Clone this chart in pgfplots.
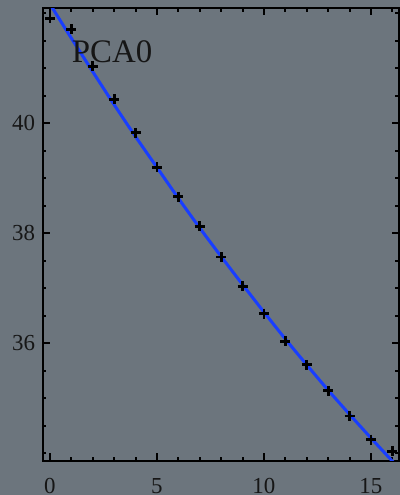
\documentclass[border=0pt]{standalone}
\usepackage{pgfplots}
\pgfplotsset{compat=1.18}
\usepackage{fontspec}
\setmainfont{Liberation Serif}
\definecolor{bg}{RGB}{108,117,125}
\definecolor{fitblue}{RGB}{25,62,255}
\definecolor{txt}{RGB}{22,22,22}
\newcommand{\tfont}{\fontsize{23}{26}\selectfont}
\begin{document}
\begin{tikzpicture}
\fill[bg] (-42.7bp,-34.5bp) rectangle (357.3bp,460.5bp);
\useasboundingbox (-42.7bp,-34.5bp) rectangle (357.3bp,460.5bp);
\begin{axis}[
  at={(0,0)}, anchor=south west,
  scale only axis,
  width=355.8bp, height=452bp,
  xmin=-0.34, xmax=16.29,
  ymin=33.87, ymax=42.09,
  axis line style={line width=2bp, black},
  xtick={0,5,10,15},
  ytick={36,38,40},
  xticklabels={{\tfont 0},{\tfont 5},{\tfont 10},{\tfont 15}},
  yticklabels={{\tfont 36},{\tfont 38},{\tfont 40}},
  minor xtick={1,2,3,4,6,7,8,9,11,12,13,14,16},
  minor ytick={34,34.5,35,35.5,36.5,37,37.5,38.5,39,39.5,40.5,41,41.5,42},
  tick align=inside,
  major tick length=7bp,
  minor tick length=3.5bp,
  every tick/.style={black, line width=2bp},
  tick label style={text=txt, inner sep=0pt},
  xticklabel style={anchor=base, yshift=-32.5bp},
  yticklabel style={anchor=base east, xshift=-7.5bp, yshift=-7.4bp},
  clip=true,
]
\addplot[fitblue, line width=3bp, smooth] coordinates {
(-0.5,42.48) (0,42.17) (1,41.55) (2,40.94) (3,40.34) (4,39.76) (5,39.20)
(6,38.64) (7,38.10) (8,37.58) (9,37.07) (10,36.57) (11,36.08) (12,35.61)
(13,35.15) (14,34.71) (15,34.28) (16,33.86) (16.5,33.66)
};
\addplot[only marks, mark=+, mark size=5bp, black, line width=2.8bp] coordinates {
(0,41.91) (1,41.71) (2,41.04) (3,40.44) (4,39.83) (5,39.20) (6,38.67)
(7,38.13) (8,37.57) (9,37.04) (10,36.54) (11,36.04) (12,35.61) (13,35.14)
(14,34.68) (15,34.25) (16,34.04)
};
\node[anchor=base, font=\fontsize{33}{36}\selectfont, text=txt] at (axis cs:2.9,41.11) {PCA0};
\end{axis}
\end{tikzpicture}
\end{document}
